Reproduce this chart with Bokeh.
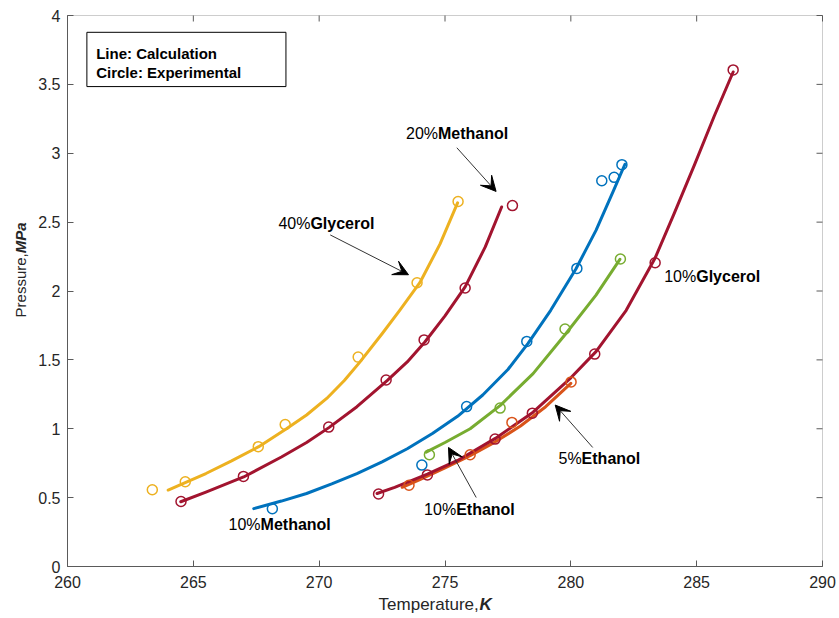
from bokeh.plotting import figure
from bokeh.models import (Range1d, FixedTicker, NumeralTickFormatter,
                          Label, Arrow, VeeHead, BoxAnnotation)
from bokeh.embed import file_html
from bokeh.resources import INLINE

FONT = "Liberation Sans"

# ---------------- data ----------------
x_ticks = [260, 265, 270, 275, 280, 285, 290]
y_ticks = [0, 0.5, 1, 1.5, 2, 2.5, 3, 3.5, 4]

# 40% Glycerol
gly40_calc_T = [264.0, 264.7, 265.5, 266.5, 267.6, 268.7, 269.5, 270.3, 271.0, 271.6, 272.5, 273.2, 274.0, 274.8, 275.5]
gly40_calc_P = [0.555, 0.61, 0.675, 0.765, 0.87, 1.0, 1.1, 1.22, 1.35, 1.48, 1.69, 1.86, 2.06, 2.34, 2.64]
gly40_exp_T = [263.37, 264.68, 267.58, 268.65, 271.55, 273.89, 275.52]
gly40_exp_P = [0.557, 0.615, 0.87, 1.03, 1.52, 2.06, 2.65]

# 20% Methanol
met20_calc_T = [264.5, 265.5, 267.0, 268.5, 269.5, 270.4, 271.5, 272.7, 273.5, 274.2, 275.0, 275.8, 276.6, 277.25]
met20_calc_P = [0.47, 0.54, 0.65, 0.795, 0.9, 1.01, 1.16, 1.35, 1.485, 1.63, 1.82, 2.03, 2.32, 2.61]
met20_exp_T = [264.51, 266.99, 270.38, 272.66, 274.17, 275.8, 277.68]
met20_exp_P = [0.472, 0.654, 1.012, 1.354, 1.645, 2.022, 2.62]

# 10% Methanol
met10_calc_T = [267.4, 268.5, 269.5, 270.5, 271.5, 272.5, 273.5, 274.5, 275.5, 276.5, 277.5, 278.3,
                279.2, 280.2, 281.0, 281.7, 282.15]
met10_calc_P = [0.42, 0.475, 0.53, 0.6, 0.675, 0.76, 0.855, 0.965, 1.09, 1.245, 1.43, 1.62,
                1.86, 2.16, 2.44, 2.73, 2.92]
met10_exp_T = [268.14, 274.08, 275.86, 278.25, 280.24, 281.23, 281.72, 282.03]
met10_exp_P = [0.419, 0.736, 1.161, 1.634, 2.164, 2.80, 2.825, 2.917]

# 10% Ethanol
eth10_calc_T = [274.25, 275.0, 276.0, 277.2, 278.5, 279.8, 281.0, 281.95]
eth10_calc_P = [0.83, 0.9, 1.0, 1.17, 1.40, 1.69, 1.97, 2.23]
eth10_exp_T = [274.38, 277.19, 279.77, 281.97]
eth10_exp_P = [0.811, 1.15, 1.724, 2.232]

# 5% Ethanol
eth5_calc_T = [273.3, 274.0, 275.0, 276.0, 277.0, 278.0, 279.0, 280.0]
eth5_calc_P = [0.575, 0.63, 0.715, 0.805, 0.905, 1.02, 1.16, 1.33]
eth5_exp_T = [273.57, 276.0, 277.66, 280.01]
eth5_exp_P = [0.59, 0.811, 1.046, 1.34]

# 10% Glycerol
gly10_calc_T = [272.3, 273.0, 274.3, 275.5, 277.0, 278.5, 280.0, 281.0, 282.2, 283.35, 284.1, 284.9, 285.7, 286.45]
gly10_calc_P = [0.53, 0.575, 0.67, 0.77, 0.93, 1.12, 1.37, 1.56, 1.86, 2.24, 2.56, 2.91, 3.27, 3.59]
gly10_exp_T = [272.36, 274.3, 276.99, 278.47, 280.95, 283.35, 286.45]
gly10_exp_P = [0.526, 0.665, 0.925, 1.113, 1.542, 2.205, 3.605]

series = [
    (gly40_calc_T, gly40_calc_P, gly40_exp_T, gly40_exp_P, "#EDB120"),
    (met20_calc_T, met20_calc_P, met20_exp_T, met20_exp_P, "#A2142F"),
    (met10_calc_T, met10_calc_P, met10_exp_T, met10_exp_P, "#0072BD"),
    (eth10_calc_T, eth10_calc_P, eth10_exp_T, eth10_exp_P, "#77AC30"),
    (eth5_calc_T, eth5_calc_P, eth5_exp_T, eth5_exp_P, "#D95319"),
    (gly10_calc_T, gly10_calc_P, gly10_exp_T, gly10_exp_P, "#A2142F"),
]

# annotation texts: (prefix, bold name, x, y)
ann_prefix = ["40%", "20%", "10%", "10%", "10%", "5%"]
ann_name = ["Glycerol", "Methanol", "Glycerol", "Methanol", "Ethanol", "Ethanol"]
ann_x = [268.38, 273.45, 283.71, 266.40, 274.17, 279.51]
ann_y = [2.489, 3.141, 2.104, 0.308, 0.412, 0.784]

# arrows: start -> end
arr_x0 = [270.44, 275.47, 276.24, 280.87]
arr_y0 = [2.407, 3.04, 0.501, 0.864]
arr_x1 = [273.55, 277.03, 275.14, 279.38]
arr_y1 = [2.118, 2.723, 0.864, 1.172]

# ---------------- figure ----------------
# axes box (data area) size in px and surrounding margins
BW, BH = 755, 551
ML, MR, MT, MB = 67, 16, 15, 51
X0, X1, Y0, Y1 = 260, 290, 0, 4
ppx = BW / (X1 - X0)
ppy = BH / (Y1 - Y0)

p = figure(frame_width=ML + BW + MR, frame_height=MT + BH + MB,
           x_range=Range1d(X0 - ML / ppx, X1 + MR / ppx),
           y_range=Range1d(Y0 - MB / ppy, Y1 + MT / ppy),
           output_backend="svg", toolbar_location=None,
           min_border_left=0, min_border_right=0, min_border_top=0, min_border_bottom=0)
p.xgrid.grid_line_color = None
p.ygrid.grid_line_color = None
p.outline_line_color = None
p.background_fill_color = "white"
p.border_fill_color = "white"

AX = "#5a5a5a"
TICK_LEN = 6

def style_axis(ax, ticks, loc, bounds, fmt=None):
    ax.fixed_location = loc
    ax.bounds = bounds
    ax.ticker = FixedTicker(ticks=ticks)
    ax.major_tick_in = TICK_LEN
    ax.major_tick_out = 0
    ax.minor_tick_line_color = None
    ax.axis_line_color = AX
    ax.major_tick_line_color = AX
    ax.major_label_text_font = FONT
    ax.major_label_text_color = "#262626"
    ax.major_label_text_font_size = "16px"
    if fmt is not None:
        ax.formatter = fmt

style_axis(p.xaxis[0], x_ticks, Y0, (X0, X1))
p.xaxis[0].major_label_standoff = 9
style_axis(p.yaxis[0], y_ticks, X0, (Y0, Y1), fmt=NumeralTickFormatter(format="0.[0]"))
p.yaxis[0].major_label_standoff = 7

# box around the axes and the inward ticks on the top and right sides
p.add_layout(BoxAnnotation(left=X0, right=X1, bottom=Y0, top=Y1, fill_alpha=0,
                           line_color=AX, line_width=1, level="underlay"))
p.segment(x0=x_ticks, y0=[Y1] * len(x_ticks), x1=x_ticks, y1=[Y1 - TICK_LEN / ppy] * len(x_ticks),
          line_color=AX, line_width=1)
p.segment(x0=[X1] * len(y_ticks), y0=y_ticks, x1=[X1 - TICK_LEN / ppx] * len(y_ticks), y1=y_ticks,
          line_color=AX, line_width=1)

for cT, cP, eT, eP, col in series:
    p.line(cT, cP, line_color=col, line_width=3, line_join="round", line_cap="round")
for cT, cP, eT, eP, col in series:
    p.scatter(eT, eP, marker="circle", size=10, fill_color=None, line_color=col, line_width=1.5)

# annotations
ANN_SIZE = 16
def text_width(s, size):
    w = {"%": .889}
    return sum(w.get(c, .556) for c in s) * size

for pre, name, x, y in zip(ann_prefix, ann_name, ann_x, ann_y):
    p.add_layout(Label(x=x, y=y, text=pre, text_font=FONT, text_font_size=f"{ANN_SIZE}px",
                       text_color="black", text_baseline="middle", text_align="left"))
    p.add_layout(Label(x=x + text_width(pre, ANN_SIZE) / ppx, y=y, text=name, text_font=FONT,
                       text_font_size=f"{ANN_SIZE}px", text_font_style="bold",
                       text_color="black", text_baseline="middle", text_align="left"))

for x0, y0, x1, y1 in zip(arr_x0, arr_y0, arr_x1, arr_y1):
    p.add_layout(Arrow(end=VeeHead(size=15, fill_color="black", line_color="black", line_width=1),
                       x_start=x0, y_start=y0, x_end=x1, y_end=y1,
                       line_color="#333333", line_width=1))

# info box
p.add_layout(BoxAnnotation(left=260.77, right=268.68, bottom=3.484, top=3.878,
                           fill_color="white", fill_alpha=1.0, line_color="black", line_width=1,
                           line_alpha=1.0))
p.add_layout(Label(x=261.14, y=3.725, text="Line: Calculation", text_font=FONT,
                   text_font_size="15px", text_font_style="bold", text_color="black",
                   text_baseline="alphabetic", text_align="left"))
p.add_layout(Label(x=261.14, y=3.587, text="Circle: Experimental", text_font=FONT,
                   text_font_size="15px", text_font_style="bold", text_color="black",
                   text_baseline="alphabetic", text_align="left"))

# axis titles (mixed styles)
XL_SIZE = 17
x_lab_x, x_lab_y = 272.36, -0.273
p.add_layout(Label(x=x_lab_x, y=x_lab_y, text="Temperature,", text_font=FONT,
                   text_font_size=f"{XL_SIZE}px", text_color="#262626",
                   text_baseline="middle", text_align="left"))
p.add_layout(Label(x=x_lab_x + 5.942 * XL_SIZE / ppx, y=x_lab_y, text="K", text_font=FONT,
                   text_font_size=f"{XL_SIZE}px", text_font_style="bold italic", text_color="#262626",
                   text_baseline="middle", text_align="left"))

YL_SIZE = 15
y_lab_x, y_lab_y = 258.12, 1.808
p.add_layout(Label(x=y_lab_x, y=y_lab_y, text="Pressure,", text_font=FONT, angle=1.5707963,
                   text_font_size=f"{YL_SIZE}px", text_color="#262626",
                   text_baseline="middle", text_align="left"))
p.add_layout(Label(x=y_lab_x, y=y_lab_y + 4.279 * YL_SIZE / ppy, text="MPa", text_font=FONT,
                   angle=1.5707963, text_font_size=f"{YL_SIZE}px", text_font_style="bold italic",
                   text_color="#262626", text_baseline="middle", text_align="left"))

open("out.html", "w").write(file_html(p, INLINE))
